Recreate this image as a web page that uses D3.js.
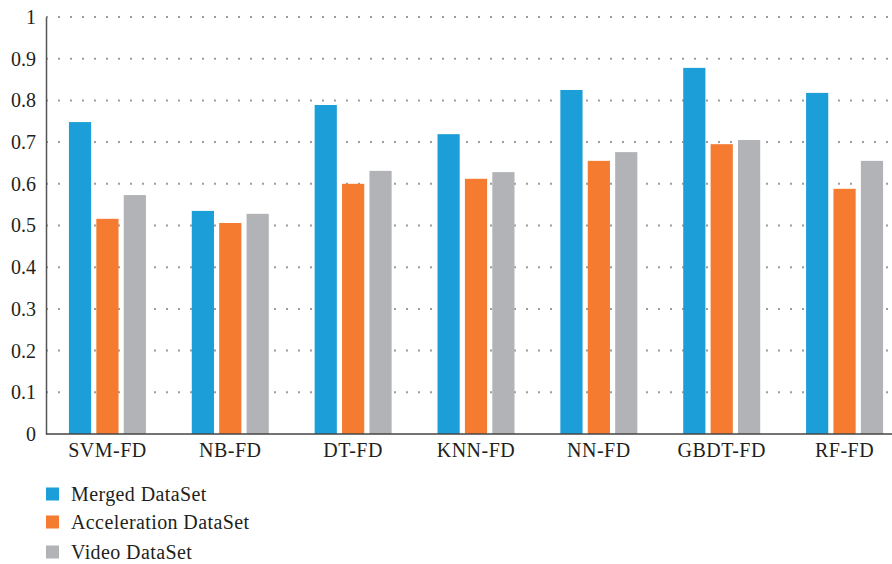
<!DOCTYPE html>
<html>
<head>
<meta charset="utf-8">
<script src="https://cdn.jsdelivr.net/npm/d3@7"></script>
<style>
  body { margin: 0; background: #fff; }
  svg text { font-family: "Liberation Serif", "Times New Roman", serif; fill: #231f20; }
</style>
</head>
<body>
<div id="chart"></div>
<script>
'use strict'
const categories = ['SVM-FD', 'NB-FD', 'DT-FD', 'KNN-FD', 'NN-FD', 'GBDT-FD', 'RF-FD']
const seriesNames = ['Merged DataSet', 'Acceleration DataSet', 'Video DataSet']
const merged = [0.748, 0.535, 0.789, 0.719, 0.825, 0.878, 0.818]
const acceleration = [0.516, 0.506, 0.600, 0.612, 0.655, 0.695, 0.588]
const video = [0.573, 0.528, 0.631, 0.628, 0.676, 0.705, 0.655]
const yTicks = [0, 0.1, 0.2, 0.3, 0.4, 0.5, 0.6, 0.7, 0.8, 0.9, 1]
const colors = ['#1c9ed8', '#f47b30', '#b2b3b6']

const w = 892, h = 564
const serif = '"Liberation Serif", "Times New Roman", serif'
const svg = d3.select('#chart').append('svg').attr('width', w).attr('height', h)

const x = d3.scaleBand().domain(categories).range([46, 906]).padding(0)
const xInner = d3.scaleBand().domain(seriesNames).range([-38.5, 38.5]).paddingInner(0.19).paddingOuter(0)
const y = d3.scaleLinear().domain([0, 1]).range([434, 17])

// dotted grid
svg.append('g')
  .selectAll('line')
  .data(yTicks.filter(d => d > 0))
  .enter().append('line')
  .attr('x1', 46).attr('x2', w)
  .attr('y1', d => y(d)).attr('y2', d => y(d))
  .attr('stroke', '#9d9d9d')
  .attr('stroke-width', 2)
  .attr('stroke-dasharray', '2,10')
  .attr('stroke-dashoffset', -12)

const rows = categories.map((c, i) => ({cat: c, vals: [merged[i], acceleration[i], video[i]]}))

const groups = svg.append('g').selectAll('g')
  .data(rows)
  .enter().append('g')
  .attr('transform', d => 'translate(' + (x(d.cat) + x.bandwidth() / 2) + ',0)')

groups.selectAll('rect')
  .data(d => d.vals.map((v, j) => ({name: seriesNames[j], v: v, j: j})))
  .enter().append('rect')
  .attr('x', d => xInner(d.name))
  .attr('width', xInner.bandwidth())
  .attr('y', d => y(d.v))
  .attr('height', d => y(0) - y(d.v))
  .attr('fill', d => colors[d.j])

// axes
const yAxis = svg.append('g')
  .attr('transform', 'translate(46,0)')
  .call(d3.axisLeft(y).tickValues(yTicks).tickSize(0).tickPadding(10).tickFormat(d => d3.format('')(d)))
yAxis.attr('font-family', null).attr('font-size', null)
yAxis.select('.domain').attr('stroke', '#555').attr('stroke-width', 1.5)
yAxis.selectAll('text').style('font-family', serif).style('font-size', '20px').attr('fill', '#231f20')

const xAxis = svg.append('g')
  .attr('transform', 'translate(0,' + y(0) + ')')
  .call(d3.axisBottom(x).tickSize(0).tickPadding(9))
xAxis.attr('font-family', null).attr('font-size', null)
xAxis.select('.domain').attr('d', 'M46,0H' + w).attr('stroke', '#444').attr('stroke-width', 1.5)
xAxis.selectAll('text').style('font-family', serif).style('font-size', '20px').style('letter-spacing', '0.5px').attr('fill', '#231f20')

// legend
const legendY = [494, 522, 552]
const legend = svg.append('g').selectAll('g')
  .data(seriesNames)
  .enter().append('g')
  .attr('transform', (d, i) => 'translate(46,' + legendY[i] + ')')
legend.append('rect')
  .attr('x', 0).attr('y', -6.5).attr('width', 13).attr('height', 13)
  .attr('fill', (d, i) => colors[i])
legend.append('text')
  .attr('x', 25).attr('y', 6.5)
  .style('font-family', serif)
  .style('font-size', '20px')
  .style('letter-spacing', '0.4px')
  .text(d => d)
</script>
</body>
</html>
